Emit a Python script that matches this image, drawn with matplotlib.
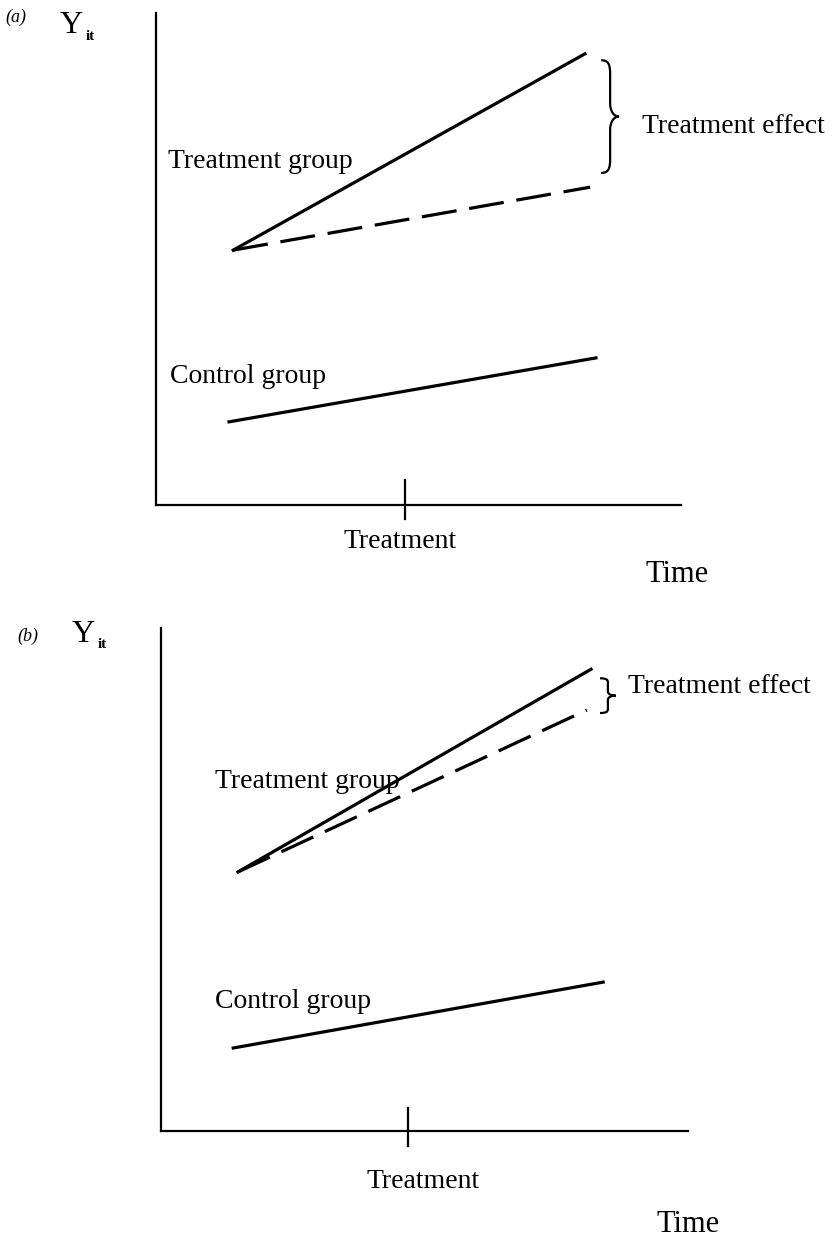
import numpy as np
import matplotlib.pyplot as plt
from matplotlib.path import Path
from matplotlib.patches import PathPatch

plt.rcParams['font.family'] = ['Liberation Serif', 'DejaVu Serif']

# values (time / outcome in arbitrary units 0..10)
t_treat = [1.47, 8.17]
a_treat = [5.18, 9.17]
a_counter = [5.18, 6.46]
t_counter_a = [1.47, 8.27]
t_ctrl = [1.39, 8.38]
a_ctrl = [1.69, 2.99]

b_t_treat = [1.46, 8.16]
b_treat = [5.15, 9.18]
b_t_counter = [1.46, 8.08]
b_counter = [5.15, 8.37]
b_t_ctrl = [1.37, 8.39]
b_ctrl = [1.65, 2.96]

treat_time = [4.74, 4.69]

W, H = 832, 1238
fig = plt.figure(figsize=(W / 100, H / 100), dpi=100)


def px_axes(left, top, right, bottom):
    ax = fig.add_axes([left / W, 1 - bottom / H, (right - left) / W, (bottom - top) / H])
    ax.set_xlim(0, 10)
    ax.set_ylim(0, 10)
    for s in ['top', 'right']:
        ax.spines[s].set_visible(False)
    for s in ['left', 'bottom']:
        ax.spines[s].set_linewidth(1.6)
    ax.set_xticks([])
    ax.set_yticks([])
    ax.patch.set_alpha(0)
    return ax


def brace(ax, x, y0, y1, w):
    # curly brace opening to the left, tip pointing right
    ym = (y0 + y1) / 2
    q = (y0 - y1) * 0.12
    xm = x + w * 0.5
    verts = [(x, y0),
             (x + w * 0.4, y0), (xm, y0 - q * 0.3), (xm, y0 - q),
             (xm, ym + q),
             (xm, ym + q * 0.4), (x + w * 0.7, ym), (x + w, ym),
             (x + w * 0.7, ym), (xm, ym - q * 0.4), (xm, ym - q),
             (xm, y1 + q),
             (xm, y1 + q * 0.3), (x + w * 0.4, y1), (x, y1)]
    codes = [Path.MOVETO,
             Path.CURVE4, Path.CURVE4, Path.CURVE4,
             Path.LINETO,
             Path.CURVE4, Path.CURVE4, Path.CURVE4,
             Path.CURVE4, Path.CURVE4, Path.CURVE4,
             Path.LINETO,
             Path.CURVE4, Path.CURVE4, Path.CURVE4]
    ax.add_patch(PathPatch(Path(verts, codes), fill=False, lw=1.6,
                           edgecolor='black', clip_on=False))


def ftext(x, y, s, **kw):
    fig.text(x / W, 1 - y / H, s, **kw)


lw = 2.3
dash = (11, 4)

# ---- panel (a)
ax = px_axes(156, 13, 681, 505)
ax.plot(t_treat, a_treat, color='black', lw=lw)
ax.plot(t_counter_a, a_counter, color='black', lw=lw, dashes=dash)
ax.plot(t_ctrl, a_ctrl, color='black', lw=lw)
ax.plot([treat_time[0]] * 2, [0.51, -0.28], color='black', lw=1.6, clip_on=False)
brace(ax, 8.48, 9.04, 6.75, 0.34)

ftext(5, 22, '(a)', fontsize=13, style='italic')
ftext(60, 33, 'Y', fontsize=23)
ftext(86, 40, 'it', fontsize=11, weight='bold')
ftext(168, 168, 'Treatment group', fontsize=20)
ftext(170, 383, 'Control group', fontsize=20)
ftext(642, 133, 'Treatment effect', fontsize=20)
ftext(400, 548, 'Treatment', fontsize=20, ha='center')
ftext(677, 582, 'Time', fontsize=22, ha='center')

# ---- panel (b)
ax = px_axes(161, 628, 688, 1131)
ax.plot(b_t_treat, b_treat, color='black', lw=lw)
ax.plot(b_t_counter, b_counter, color='black', lw=lw, dashes=dash)
ax.plot(b_t_ctrl, b_ctrl, color='black', lw=lw)
ax.plot([treat_time[1]] * 2, [0.46, -0.30], color='black', lw=1.6, clip_on=False)
brace(ax, 8.33, 9.0, 8.31, 0.3)

ftext(17, 641, '(b)', fontsize=13, style='italic')
ftext(72, 642, 'Y', fontsize=23)
ftext(98, 648, 'it', fontsize=11, weight='bold')
ftext(215, 788, 'Treatment group', fontsize=20)
ftext(215, 1008, 'Control group', fontsize=20)
ftext(628, 693, 'Treatment effect', fontsize=20)
ftext(423, 1188, 'Treatment', fontsize=20, ha='center')
ftext(688, 1232, 'Time', fontsize=22, ha='center')

fig.savefig('out.png', dpi=100)
